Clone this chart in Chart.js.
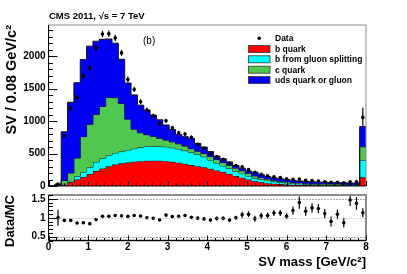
<!DOCTYPE html>
<html><head><meta charset="utf-8">
<script src="https://cdn.jsdelivr.net/npm/chart.js@4/dist/chart.umd.min.js"></script>
<style>
html,body{margin:0;padding:0;background:#fff;}
#wrap{position:relative;width:407px;height:274px;overflow:hidden;background:#fff;}
canvas{position:absolute;left:0;}
#c1{top:0;} #c2{top:190px;}
</style></head><body>
<div id="wrap"><canvas id="c1" width="407" height="192"></canvas><canvas id="c2" width="407" height="84"></canvas></div>
<script>
// ---- data (50 bins of SV mass, 0 - 8 GeV/c^2, last bin includes overflow) ----
const massMin = 0, massMax = 8, binWidth = 0.16;
const bQuark = [0,3,20,60,100,140,185,230,270,305,330,350,362,375,383,388,390,388,382,372,358,342,325,305,288,265,240,215,185,155,128,100,72,56,44,36,29,23,19,16,14,12,10,9,8,7,6,5,5,134];
const bGluonSplitting = [0,2,15,20,50,75,105,140,155,170,180,180,193,200,212,222,225,224,223,218,212,203,195,180,162,135,115,95,83,73,62,55,50,44,38,32,28,25,21,18,16,15,14,12,11,10,9,9,8,266];
const cQuark = [0,10,50,120,280,545,660,730,800,890,850,742,475,300,225,180,150,123,102,90,80,70,55,50,50,55,55,52,50,47,45,40,33,28,24,20,18,16,15,14,13,12,12,12,12,12,12,11,11,205];
const udsQuarkOrGluon = [0,15,750,1090,1160,1188,1204,1130,1035,900,840,680,555,528,425,379,328,285,233,191,145,145,160,120,100,75,50,56,53,40,40,36,57,45,41,37,37,36,33,30,29,28,26,25,24,23,23,22,21,310];
const dataCounts = [null,30,774,1195,1364,1695,1820,2125,2340,2345,2281,2050,1641,1487,1297,1169,1077,964,1004,897,820,800,749,641,580,497,451,410,349,315,297,252,210,182,156,140,130,110,105,106,86,84,77,66,58,58,50,66,64,1057];
const dataErrors = [0,15,30,38,40,45,45,50,50,50,50,45,45,40,38,35,35,32,32,30,30,28,28,26,25,23,22,20,19,18,18,16,15,14,13,12,12,11,11,11,10,10,9,8,8,8,7,8,8,150];
const ratioValues = [null,1.0,0.93,0.93,0.86,0.87,0.845,0.955,1.04,1.04,1.06,1.05,1.035,1.06,1.045,1.0,0.985,0.945,1.07,1.03,1.04,1.06,1.01,0.99,0.97,0.94,0.98,0.985,0.94,1.0,1.08,1.09,0.975,1.05,1.06,1.125,1.125,1.04,1.19,1.40,1.17,1.26,1.24,1.11,0.9,1.09,0.87,1.47,1.38,1.13];
const ratioErrors = [0,0.21,0.03,0.03,0.03,0.03,0.03,0.03,0.03,0.03,0.03,0.03,0.03,0.03,0.03,0.03,0.03,0.03,0.035,0.035,0.035,0.035,0.035,0.035,0.035,0.05,0.05,0.05,0.05,0.05,0.08,0.08,0.08,0.08,0.08,0.08,0.08,0.08,0.11,0.16,0.12,0.12,0.12,0.12,0.13,0.13,0.13,0.16,0.17,0.12];
const mainYTicks = [0,500,1000,1500,2000];
const mainYTickLabels = ['0','500','1000','1500','2000'];
const ratioYTicks = [0.5,1,1.5];
const ratioYTickLabels = ['0.5','1','1.5'];
const xTicks = [0,1,2,3,4,5,6,7,8];
const xTickLabels = ['0','1','2','3','4','5','6','7','8'];
const seriesNames = ['Data','b quark','b from gluon splitting','c quark','uds quark or gluon'];
const seriesColors = ['#000000','#ff0000','#00ffff','#50c850','#0000f2'];
const mainYMax = 2480, ratioYMin = 0.4, ratioYMax = 1.6;

const FONT = "'Liberation Sans', Arial, Helvetica, sans-serif";
const binLow = i => massMin + i * binWidth;
const binCenter = i => massMin + (i + 0.5) * binWidth;

function cumulate(prev, comp){ return comp.map((v,i)=> (prev? prev[i]:0) + v); }
const topB = cumulate(null, bQuark);
const topBG = cumulate(topB, bGluonSplitting);
const topC = cumulate(topBG, cQuark);
const topUDS = cumulate(topC, udsQuarkOrGluon);
function stepPoints(arr){
  const pts = arr.map((v,i)=>({x:binLow(i), y:v}));
  pts.push({x:massMax, y:arr[arr.length-1]});
  return pts;
}
function pointsOf(vals){
  const pts=[]; vals.forEach((v,i)=>{ if(v!==null) pts.push({x:binCenter(i), y:v}); }); return pts;
}

function errorBars(values, errors){
  return {
    id:'errbars',
    afterDatasetsDraw(chart){
      const {ctx, scales:{x,y}, chartArea:a} = chart;
      ctx.save();
      ctx.beginPath(); ctx.rect(a.left, a.top-2, a.right-a.left, a.bottom-a.top+4); ctx.clip();
      ctx.strokeStyle='#000'; ctx.lineWidth=1.2;
      values.forEach((v,i)=>{
        if(v===null || !errors[i]) return;
        const px = x.getPixelForValue(binCenter(i));
        ctx.beginPath();
        ctx.moveTo(px, y.getPixelForValue(v-errors[i]));
        ctx.lineTo(px, y.getPixelForValue(v+errors[i]));
        ctx.stroke();
      });
      ctx.restore();
    }
  };
}

function frame(opts){
  return {
    id:'frame',
    afterDraw(chart){
      const {ctx, scales:{x,y}, chartArea:a} = chart;
      ctx.save();
      ctx.strokeStyle = '#8c8c8c'; ctx.lineWidth = opts.frameW;
      ctx.beginPath(); ctx.moveTo(a.left, a.top); ctx.lineTo(a.right, a.top); ctx.lineTo(a.right, a.bottom); ctx.stroke();
      if(opts.bottomGray){ ctx.beginPath(); ctx.moveTo(a.left,a.bottom); ctx.lineTo(a.right,a.bottom); ctx.stroke(); }
      if(opts.dotted){
        opts.dotted.forEach(d=>{
          const py = Math.round(y.getPixelForValue(d.v))+0.5;
          ctx.strokeStyle=d.c; ctx.lineWidth=1; ctx.setLineDash([1,2]);
          ctx.beginPath(); ctx.moveTo(a.left, py); ctx.lineTo(a.right, py); ctx.stroke();
        });
        ctx.setLineDash([]);
      }
      ctx.strokeStyle='#000'; ctx.lineWidth=1;
      ctx.beginPath(); ctx.moveTo(a.left, a.top); ctx.lineTo(a.left, a.bottom); ctx.lineTo(a.right, a.bottom); ctx.stroke();
      for(let k=0; ; k++){
        const v = opts.yMinorStart + k*opts.yMinor;
        if(v > y.max + 1e-9) break;
        if(v < y.min - 1e-9) continue;
        const major = Math.abs(v/opts.yMajor - Math.round(v/opts.yMajor)) < 1e-6;
        const py = Math.round(y.getPixelForValue(v))+0.5;
        ctx.beginPath(); ctx.moveTo(a.left, py); ctx.lineTo(a.left + (major?opts.yLen:opts.yLen/2), py); ctx.stroke();
      }
      for(let k=0; ; k++){
        const v = massMin + k*0.2;
        if(v > massMax + 1e-9) break;
        const major = Math.abs(v - Math.round(v)) < 1e-6;
        const px = Math.round(x.getPixelForValue(v))+0.5;
        ctx.beginPath(); ctx.moveTo(px, a.bottom); ctx.lineTo(px, a.bottom - (major?opts.xLen:opts.xLen/2)); ctx.stroke();
      }
      ctx.restore();
      if(opts.extra) opts.extra(ctx, chart);
    }
  };
}

function drawLegendAndText(ctx){
  ctx.save();
  ctx.fillStyle='#000';
  ctx.font = "bold 9.5px " + FONT; ctx.textBaseline='middle'; ctx.textAlign='left';
  ctx.fillText('CMS 2011, \u221As = 7 TeV', 49, 16.5);
  ctx.font = "10px " + FONT;
  ctx.fillText('(b)', 143, 41.5);
  const rowsY = [38.3, 49, 59.3, 69.7, 80];
  ctx.font = "bold 8.5px " + FONT;
  seriesNames.forEach((name,i)=>{
    const yy = rowsY[i];
    if(i===0){
      ctx.beginPath(); ctx.arc(259.2, yy, 1.8, 0, Math.PI*2); ctx.fillStyle='#000'; ctx.fill();
    } else {
      ctx.fillStyle = seriesColors[i];
      ctx.fillRect(248.5, yy-3.5, 21.5, 7);
      ctx.strokeStyle='#333'; ctx.lineWidth=0.8;
      ctx.strokeRect(248.5, yy-3.5, 21.5, 7);
    }
    ctx.fillStyle='#000';
    ctx.fillText(name, 275, yy+0.5);
  });
  ctx.restore();
}

const tickFont = {family: FONT, size: 10, weight: 'bold'};
const titleFont = {family: FONT, size: 13, weight: 'bold'};
const noGrid = {display:false, drawTicks:false, tickLength:0};
const zeroPad = s => { s.paddingTop = 0; s.paddingBottom = 0; s.paddingLeft = 0; s.paddingRight = 0; };

function fitArea(chart, target){
  for(let k=0;k<4;k++){
    const a = chart.chartArea, p = chart.options.layout.padding;
    const dt = target.top - a.top, db = a.bottom - target.bottom, dl = target.left - a.left, dr = a.right - target.right;
    if(Math.abs(dt)+Math.abs(db)+Math.abs(dl)+Math.abs(dr) < 0.01) break;
    p.top += dt; p.bottom += db; p.left += dl; p.right += dr;
    chart.update('none');
  }
}

// ---------- main panel ----------
const histDatasets = [
  {arr: topB, order: 4}, {arr: topBG, order: 3}, {arr: topC, order: 2}, {arr: topUDS, order: 1}
].map((h,k)=>({
  type:'line', label: seriesNames[k+1], data: stepPoints(h.arr), stepped: true,
  fill: k===0 ? 'origin' : '-1', backgroundColor: seriesColors[k+1], borderColor:'#111',
  borderWidth: 1, pointRadius: 0, order: h.order
}));

const mainChart = new Chart(document.getElementById('c1'), {
  type:'line',
  data:{ datasets:[
    {type:'line', label: seriesNames[0], data: pointsOf(dataCounts), showLine:false, pointRadius:1.8,
     pointBackgroundColor:'#000', pointBorderWidth:0, order:0},
    ...histDatasets
  ]},
  options:{
    responsive:false, animation:false, devicePixelRatio:1,
    layout:{padding:{left:0, right:41, top:25, bottom:6}},
    plugins:{legend:{display:false}, tooltip:{enabled:false}},
    scales:{
      x:{type:'linear', min:massMin, max:massMax, grid:noGrid, border:{display:false},
         ticks:{display:false}, afterFit:s=>{s.height=0; zeroPad(s);}},
      y:{type:'linear', min:0, max:mainYMax, grid:noGrid, border:{display:false},
         afterBuildTicks:s=>{s.ticks = mainYTicks.map(v=>({value:v}));},
         ticks:{font:tickFont, color:'#000', padding:3, callback:(v,i)=>mainYTickLabels[i]},
         afterFit:s=>{s.width=48.5; zeroPad(s);},
         title:{display:true, text:'SV / 0.08 GeV/c\u00B2', align:'end', font:{family:FONT, size:14.5, weight:'bold'}, color:'#000', padding:{top:3, bottom:0}}}
    }
  },
  plugins:[errorBars(dataCounts, dataErrors), frame({frameW:1, yMinorStart:0, yMinor:100, yMajor:500, yLen:9, xLen:5,
    extra:(ctx)=>drawLegendAndText(ctx)})]
});
fitArea(mainChart, {left:48.5, right:366, top:25, bottom:186});

// ---------- ratio panel ----------
const ratioChart = new Chart(document.getElementById('c2'), {
  type:'line',
  data:{ datasets:[
    {label:'Data/MC', data: pointsOf(ratioValues), showLine:false, pointRadius:1.8,
     pointBackgroundColor:'#000', pointBorderWidth:0}
  ]},
  options:{
    responsive:false, animation:false, devicePixelRatio:1,
    layout:{padding:{left:0, right:41, top:5, bottom:0}},
    plugins:{legend:{display:false}, tooltip:{enabled:false}},
    scales:{
      x:{type:'linear', min:massMin, max:massMax, grid:noGrid, border:{display:false},
         afterBuildTicks:s=>{s.ticks = xTicks.map(v=>({value:v}));},
         ticks:{font:tickFont, color:'#000', padding:1, maxRotation:0, autoSkip:false, callback:(v,i)=>xTickLabels[i]},
         afterFit:s=>{s.height=33.5; zeroPad(s);},
         title:{display:true, text:'SV mass [GeV/c\u00B2]', align:'end', font:titleFont, color:'#000', padding:{top:0, bottom:3.5}}},
      y:{type:'linear', min:ratioYMin, max:ratioYMax, grid:noGrid, border:{display:false},
         afterBuildTicks:s=>{s.ticks = ratioYTicks.map(v=>({value:v}));},
         ticks:{font:tickFont, color:'#000', padding:3, callback:(v,i)=>ratioYTickLabels[i]},
         afterFit:s=>{s.width=48.5; zeroPad(s);},
         title:{display:true, text:'Data/MC', align:'end', font:titleFont, color:'#000', padding:{top:3, bottom:0}}}
    }
  },
  plugins:[errorBars(ratioValues, ratioErrors), frame({frameW:2, bottomGray:true, yMinorStart:0.4, yMinor:0.1, yMajor:0.5, yLen:9, xLen:5,
    dotted:[{v:1.5,c:'#555'},{v:1,c:'#aaa'},{v:0.5,c:'#555'}]})]
});
fitArea(ratioChart, {left:48.5, right:366, top:5, bottom:50.5});
</script>
</body></html>
